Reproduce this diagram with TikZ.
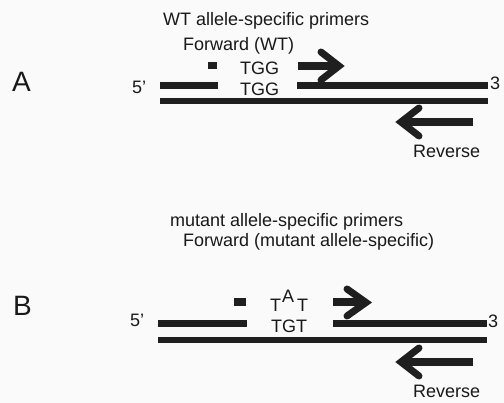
\documentclass[tikz,border=0pt]{standalone}
\usepackage{fontspec}
\setmainfont{Liberation Sans}
\begin{document}
\begin{tikzpicture}[x=1pt,y=-1pt,
  ink/.style={draw=black!88},
  lbl/.style={inner sep=0pt,anchor=base west,text=black!90,font=\fontsize{18}{20}\selectfont},
  panel/.style={inner sep=0pt,anchor=base west,text=black!90,font=\fontsize{28}{30}\selectfont},
  strand/.style={ink,line width=6.5pt,line cap=butt},
  shaft/.style={ink,line width=8pt,line cap=butt},
  barb/.style={ink,line width=7pt,line cap=round,line join=miter}]
\useasboundingbox[fill=black!2] (0,0) rectangle (504,403);

% ---------- Panel A: wild-type allele ----------
\node[panel] (lA) at (12,92) {A};
\node[lbl] (tA) at (163,26) {WT allele-specific primers};
\node[lbl] (fA) at (183,51) {Forward (WT)};
\node[lbl] (gA1) at (240,75) {TGG};
\node[lbl] (gA2) at (240,96) {TGG};
\node[lbl] (p5A) at (132,94) {5'};
\node[lbl] (p3A) at (490,90) {3};
\node[lbl] (rA) at (413,158) {Reverse};

% DNA strands
\draw[strand] (160,85.5) -- (218,85.5);
\draw[strand] (297,85.5) -- (488,85.5);
\draw[strand] (160,101) -- (488,101);
% 3' end of the forward primer
\fill[black!88] (208,62) rectangle (217,69);

% forward primer arrow
\draw[shaft] (298,66) -- (336,66);
\draw[barb] (321,52) -- (339,66) -- (321,80);
% reverse primer arrow
\draw[shaft] (473,122) -- (404,122);
\draw[barb] (419,108) -- (401,122) -- (419,136);

% ---------- Panel B: mutant allele ----------
\node[panel] (lB) at (13,316) {B};
\node[lbl] (tB) at (170,227) {mutant allele-specific primers};
\node[lbl] (fB) at (183,247) {Forward (mutant allele-specific)};
\node[lbl] (m1) at (270,312) {T};
\node[lbl] (m2) at (282,303) {A};
\node[lbl] (m3) at (297,312) {T};
\node[lbl] (gB) at (271,333) {TGT};
\node[lbl] (p5B) at (130,327) {5'};
\node[lbl] (p3B) at (488,328) {3};
\node[lbl] (rB) at (413,398) {Reverse};

% DNA strands
\draw[strand] (158,323.5) -- (247,323.5);
\draw[strand] (333,323.5) -- (487,323.5);
\draw[strand] (158,340) -- (487,340);
% 3' end of the forward primer
\fill[black!88] (234,298) rectangle (246,306);

% forward primer arrow
\draw[shaft] (333,302.5) -- (362,302.5);
\draw[barb] (347,289) -- (366,302.5) -- (347,316);
% reverse primer arrow
\draw[shaft] (473,362) -- (404,362);
\draw[barb] (419,348) -- (401,362) -- (419,376);
\end{tikzpicture}
\end{document}
